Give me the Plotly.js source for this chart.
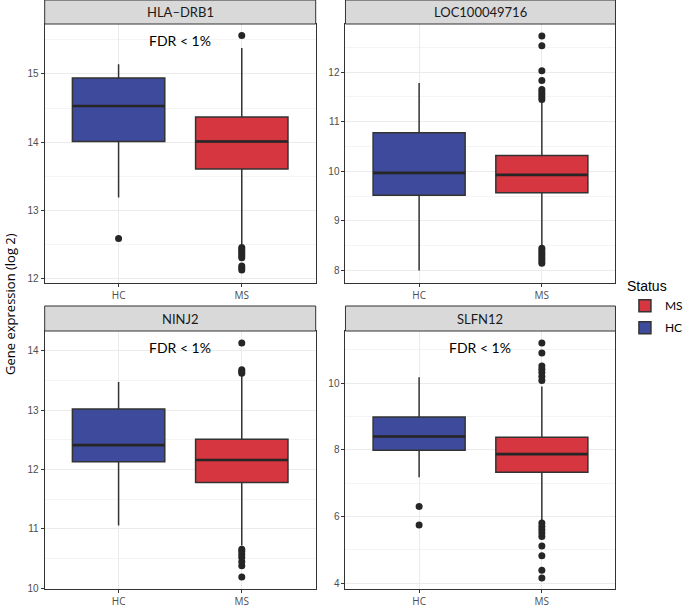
<!DOCTYPE html>
<html>
<head>
<meta charset="utf-8">
<script src="https://cdn.plot.ly/plotly-3.0.1.min.js"></script>
<style>html,body{margin:0;padding:0;background:#fff;}#chart{width:688px;height:608px;}</style>
</head>
<body>
<div id="chart"></div>
<script>
// ---- data ----
const genes = ['HLA\u2013DRB1', 'LOC100049716', 'NINJ2', 'SLFN12'];
const groups = ['HC', 'MS'];
const fdrSignificant = [true, false, true, true];

const hcQ1     = [14.01, 9.52, 12.13, 7.99];
const hcMedian = [14.53, 9.97, 12.41, 8.40];
const hcQ3     = [14.94, 10.78, 13.02, 8.99];
const hcLower  = [13.19, 8.00, 11.06, 7.18];
const hcUpper  = [15.14, 11.78, 13.47, 10.18];
const hcOutliers = [[12.59], [], [], [6.30, 5.74]];

const msQ1     = [13.61, 9.57, 11.78, 7.33];
const msMedian = [14.01, 9.93, 12.16, 7.87];
const msQ3     = [14.37, 10.32, 12.51, 8.38];
const msLower  = [12.50, 8.48, 10.72, 5.85];
const msUpper  = [15.38, 11.42, 13.58, 9.90];
const msOutliers = [
  [15.56, 12.46, 12.43, 12.40, 12.37, 12.34, 12.31, 12.19, 12.16, 12.13],
  [12.73, 12.53, 12.03, 11.83, 11.65, 11.60, 11.55, 11.50, 11.45, 8.45, 8.40, 8.35, 8.30, 8.25, 8.20, 8.15],
  [14.13, 13.68, 13.65, 13.62, 10.66, 10.62, 10.57, 10.52, 10.45, 10.38, 10.19],
  [11.21, 10.91, 10.52, 10.42, 10.32, 10.20, 10.08, 5.80, 5.70, 5.60, 5.50, 5.40, 5.11, 4.82, 4.38, 4.15]
];

const yRanges = [[11.94, 15.73], [7.75, 12.97], [9.99, 14.33], [3.82, 11.57]];
const yDticks = [1, 1, 1, 2];

// ---- styling ----
const W = 688, H = 608;
const colPx = [[45, 318], [348, 620]];
const rowPx = [[24, 283], [331, 589]];
const stripH = [24, 25];
const colors = {HC: '#3E4A9B', MS: '#D5363F'};
const dark = '#333333';

const stats = {
  HC: {q1: hcQ1, med: hcMedian, q3: hcQ3, lo: hcLower, hi: hcUpper, out: hcOutliers},
  MS: {q1: msQ1, med: msMedian, q3: msQ3, lo: msLower, hi: msUpper, out: msOutliers}
};

const traces = [];
const layout = {
  width: W, height: H,
  margin: {l: 0, r: 0, t: 0, b: 0},
  paper_bgcolor: '#fff', plot_bgcolor: '#fff',
  boxmode: 'overlay',
  showlegend: true,
  legend: {
    x: 0.915, y: 0.551, xanchor: 'left', yanchor: 'top',
    title: {text: 'Status', font: {family: 'Liberation Sans, Arial', size: 14, color: '#000'}},
    font: {family: 'Lato, Open Sans', size: 12, color: '#000'},
    tracegroupgap: 3, itemwidth: 30
  },
  shapes: [], annotations: []
};

genes.forEach((g, i) => {
  const r = Math.floor(i / 2), c = i % 2;
  const sfx = i === 0 ? '' : String(i + 1);
  const xa = 'x' + sfx, ya = 'y' + sfx;
  const xd = [colPx[c][0] / W, colPx[c][1] / W];
  const yd = [1 - rowPx[r][1] / H, 1 - rowPx[r][0] / H];

  layout['xaxis' + sfx] = {
    domain: xd, anchor: ya, type: 'category',
    categoryorder: 'array', categoryarray: groups,
    range: [-0.6, 1.6], showgrid: true, gridcolor: '#EBEBEB', gridwidth: 1,
    showline: true, mirror: true, linecolor: dark, linewidth: 1,
    ticks: 'outside', ticklen: 3, tickcolor: dark,
    tickfont: {family: 'Open Sans', size: 10, color: '#4D4D4D'},
    zeroline: false, fixedrange: true
  };
  layout['yaxis' + sfx] = {
    domain: yd, anchor: xa, range: yRanges[i], dtick: yDticks[i],
    showgrid: true, gridcolor: '#EBEBEB', gridwidth: 1,
    minor: {dtick: yDticks[i] / 2, showgrid: true, gridcolor: '#F4F4F4', gridwidth: 1},
    showline: true, mirror: true, linecolor: dark, linewidth: 1,
    ticks: 'outside', ticklen: 3, tickcolor: dark,
    tickfont: {family: 'Liberation Sans, Arial', size: 10, color: '#4D4D4D'},
    zeroline: false, fixedrange: true
  };

  // strip
  layout.shapes.push({
    type: 'rect', xref: 'paper', yref: 'paper',
    x0: xd[0], x1: xd[1], y0: yd[1], y1: yd[1] + stripH[r] / H,
    fillcolor: '#D9D9D9', line: {color: dark, width: 1}, layer: 'above'
  });
  layout.annotations.push({
    xref: 'paper', yref: 'paper', x: (xd[0] + xd[1]) / 2, y: yd[1] + stripH[r] / (2 * H),
    xanchor: 'center', yanchor: 'middle', showarrow: false, text: g,
    font: {family: 'Lato, Open Sans', size: 13, color: '#1A1A1A'}
  });
  if (fdrSignificant[i]) {
    layout.annotations.push({
      xref: xa + ' domain', yref: ya + ' domain', x: 0.5, y: 0.935,
      xanchor: 'center', yanchor: 'middle', showarrow: false, text: 'FDR < 1%',
      font: {family: 'Lato, Open Sans', size: 14, color: '#000'}
    });
  }

  ['MS', 'HC'].forEach((grp) => {
    const s = stats[grp];
    traces.push({
      type: 'box', name: grp, xaxis: xa, yaxis: ya,
      x: [grp], q1: [s.q1[i]], median: [s.med[i]], q3: [s.q3[i]],
      lowerfence: [s.lo[i]], upperfence: [s.hi[i]],
      width: 0.75, whiskerwidth: 0, boxpoints: false,
      fillcolor: colors[grp], line: {color: dark, width: 1.5},
      legendgroup: grp, showlegend: i === 0, hoverinfo: 'skip'
    });
  });
  ['MS', 'HC'].forEach((grp) => {
    const s = stats[grp];
    // thick median bar (zero-height box at the median)
    traces.push({
      type: 'box', name: grp + ' median', xaxis: xa, yaxis: ya,
      x: [grp], q1: [s.med[i]], median: [s.med[i]], q3: [s.med[i]],
      lowerfence: [s.med[i]], upperfence: [s.med[i]],
      width: 0.75, whiskerwidth: 0, boxpoints: false,
      fillcolor: 'rgba(0,0,0,0)', line: {color: '#262626', width: 2.6},
      showlegend: false, hoverinfo: 'skip'
    });
    if (s.out[i].length) {
      traces.push({
        type: 'scatter', mode: 'markers', xaxis: xa, yaxis: ya,
        x: s.out[i].map(() => grp), y: s.out[i],
        marker: {color: '#262626', size: 7},
        showlegend: false, hoverinfo: 'skip'
      });
    }
  });
});

layout.annotations.push({
  xref: 'paper', yref: 'paper', x: 10 / W, y: 1 - 304 / H,
  xanchor: 'center', yanchor: 'middle', showarrow: false, textangle: -90,
  text: 'Gene expression (log 2)',
  font: {family: 'Open Sans', size: 13, color: '#000'}
});

Plotly.newPlot('chart', traces, layout, {staticPlot: true, displayModeBar: false});
</script>
</body>
</html>
